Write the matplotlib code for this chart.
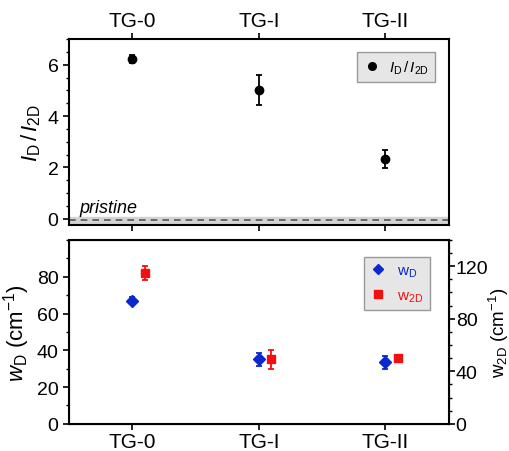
import numpy as np
import matplotlib.pyplot as plt
from matplotlib.ticker import MultipleLocator
from matplotlib.lines import Line2D

plt.rcParams['font.family'] = ['Liberation Sans', 'DejaVu Sans']
plt.rcParams['mathtext.fontset'] = 'custom'
plt.rcParams['mathtext.rm'] = 'Liberation Sans'
plt.rcParams['mathtext.it'] = 'Liberation Sans:italic'

# data
samples = ["TG-0", "TG-I", "TG-II"]
ratio = [6.22, 5.02, 2.32]
ratio_err = [0.15, 0.58, 0.35]
pristine = -0.05
pristine_err = 0.12
w_d = [67.0, 35.0, 33.5]
w_d_err = [2.0, 3.5, 3.5]
w_2d = [115.0, 49.0, 50.5]
w_2d_err = [5.5, 7.0, 1.0]

x = np.arange(len(samples))
fs = 15
nfs = 14
blue = "#0a28d0"
red = "#f01010"

fig = plt.figure(figsize=(5.1, 4.52), dpi=100)

# top panel: intensity ratio
ax1 = fig.add_axes([0.135, 0.5, 0.745, 0.411])
ax1.axhspan(pristine - pristine_err, pristine + pristine_err, color="#d3d3d3", zorder=0)
ax1.axhline(pristine, color="#555555", ls=(0, (4, 3)), lw=1.2, zorder=1)
ax1.errorbar(x, ratio, yerr=ratio_err, fmt="o", color="black", ms=6,
             capsize=2.5, elinewidth=1.3, capthick=1.3)
ax1.text(-0.42, 0.25, "pristine", style="italic", fontsize=13)
ax1.set_xlim(-0.5, 2.5)
ax1.set_ylim(-0.25, 7)
ax1.set_xticks(x)
ax1.set_xticklabels(samples, fontsize=fs)
ax1.xaxis.tick_top()
ax1.tick_params(axis="x", which="both", top=True, bottom=True, labeltop=True,
                labelbottom=False, length=4, width=1.2, pad=3)
ax1.set_yticks([0, 2, 4, 6])
ax1.yaxis.set_minor_locator(MultipleLocator(0.5))
ax1.tick_params(axis="y", labelsize=nfs, length=4, width=1.2)
ax1.tick_params(axis="y", which="minor", length=2.5, width=1)
ax1.set_ylabel(r"$I_\mathrm{D}\,/\,I_\mathrm{2D}$", fontsize=fs + 1, labelpad=3)
for s in ax1.spines.values():
    s.set_linewidth(1.5)
h0 = Line2D([], [], marker="o", ls="none", color="black", ms=5.5)
leg1 = ax1.legend([h0], [r"$I_\mathrm{D}\,/\,I_\mathrm{2D}$"], loc="upper right", fontsize=11,
                  frameon=True, fancybox=False, handletextpad=0.5, borderpad=0.4,
                  handlelength=1.2, bbox_to_anchor=(0.985, 0.97))
leg1.get_frame().set_facecolor("#e6e6e6")
leg1.get_frame().set_edgecolor("#999999")
leg1.get_frame().set_alpha(1)

# bottom panel: peak widths
ax2 = fig.add_axes([0.135, 0.06, 0.745, 0.407])
ax3 = ax2.twinx()
ax2.errorbar(x, w_d, yerr=w_d_err, fmt="D", color=blue, ms=6,
             capsize=2.5, elinewidth=1.3, capthick=1.3)
ax3.errorbar(x + 0.1, w_2d, yerr=w_2d_err, fmt="s", color=red, ms=6,
             capsize=2.5, elinewidth=1.3, capthick=1.3)
ax2.set_xlim(-0.5, 2.5)
ax2.set_ylim(0, 100)
ax3.set_ylim(0, 140)
ax2.set_xticks(x)
ax2.set_xticklabels(samples, fontsize=fs)
ax2.tick_params(axis="x", length=4, width=1.2, pad=2)
ax2.set_yticks([0, 20, 40, 60, 80])
ax2.yaxis.set_minor_locator(MultipleLocator(10))
ax2.tick_params(axis="y", labelsize=nfs, length=4, width=1.2)
ax2.tick_params(axis="y", which="minor", length=2.5, width=1)
ax3.set_yticks([0, 40, 80, 120])
ax3.yaxis.set_minor_locator(MultipleLocator(10))
ax3.tick_params(axis="y", labelsize=nfs, length=4, width=1.2, pad=1)
ax3.tick_params(axis="y", which="minor", length=2.5, width=1)
ax2.set_ylabel(r"$w_\mathrm{D}$ (cm$^{-1}$)", fontsize=fs + 1, labelpad=3)
ax3.set_ylabel(r"w$_\mathrm{2D}$ (cm$^{-1}$)", fontsize=13.5)
ax3.yaxis.set_label_coords(1.1, 0.5)
for s in ax3.spines.values():
    s.set_linewidth(1.5)
hb = Line2D([], [], marker="D", ls="none", color=blue, ms=5.5)
hr = Line2D([], [], marker="s", ls="none", color=red, ms=5.5)
leg2 = ax3.legend([hb, hr], [r"w$_\mathrm{D}$", r"w$_\mathrm{2D}$"], loc="upper right",
                  fontsize=11, frameon=True, fancybox=False, handletextpad=0.7,
                  borderpad=0.45, handlelength=1.0, labelspacing=0.6, bbox_to_anchor=(0.97, 0.95))
leg2.get_frame().set_facecolor("#e6e6e6")
leg2.get_frame().set_edgecolor("#999999")
leg2.get_frame().set_alpha(1)
leg2.get_texts()[0].set_color(blue)
leg2.get_texts()[1].set_color(red)

fig.savefig("out.png", dpi=100)
